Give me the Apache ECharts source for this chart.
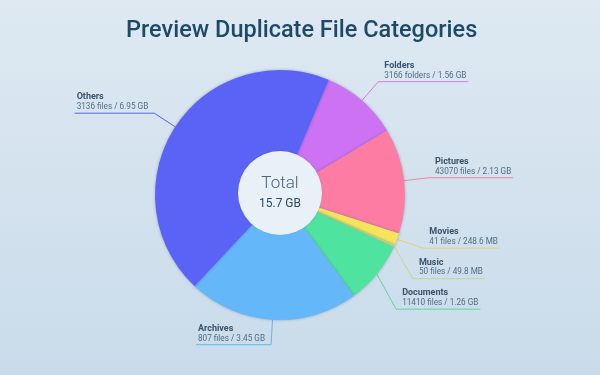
<!DOCTYPE html>
<html>
<head>
<meta charset="utf-8">
<script src="https://cdn.jsdelivr.net/npm/echarts@6/dist/echarts.min.js"></script>
<style>
  html, body { margin: 0; padding: 0; }
  #chart { width: 600px; height: 375px; }
</style>
</head>
<body>
<div id="chart"></div>
<script>
// categories, clockwise from the top
var categories = ['Folders', 'Pictures', 'Movies', 'Music', 'Documents', 'Archives', 'Others'];
// size in GB
var sizesGB = [1.56, 2.13, 0.2486, 0.0498, 1.26, 3.45, 6.95];
// second label line
var details = ['3166 folders / 1.56 GB', '43070 files / 2.13 GB', '41 files / 248.6 MB',
  '50 files / 49.8 MB', '11410 files / 1.26 GB', '807 files / 3.45 GB', '3136 files / 6.95 GB'];
var colors = ['#cd72f3', '#fd7ca4', '#f8e45c', '#a8e783', '#4fe3a0', '#64b8f9', '#5a63f6'];
var lineColors = ['#d57ae8', '#ee86a6', '#e6cf7e', '#c9d68c', '#5cd6a4', '#6ab4e8', '#5b66d8'];
var totalText = ['Total', '15.7 GB'];

var myChart = echarts.init(document.getElementById('chart'));

var pieData = [];
for (var i = 0; i < categories.length; i++) {
  pieData.push({
    name: categories[i],
    value: sizesGB[i],
    detail: details[i],
    itemStyle: { color: colors[i] },
    labelLine: { lineStyle: { color: lineColors[i] } }
  });
}

var cx = 280;

var option = {
  backgroundColor: new echarts.graphic.LinearGradient(0, 0, 0, 1, [
    { offset: 0, color: '#dee9f2' },
    { offset: 1, color: '#c9dbea' }
  ]),
  title: {
    text: 'Preview Duplicate File Categories',
    left: 121,
    top: 14,
    textStyle: {
      color: '#1d4a66',
      fontFamily: 'Roboto',
      fontWeight: 500,
      fontSize: 23.5
    }
  },
  series: [
    {
      name: 'categories',
      type: 'pie',
      center: [cx, 195],
      radius: [0, 125],
      startAngle: 67,
      clockwise: true,
      silent: true,
      itemStyle: {
        shadowBlur: 3,
        shadowColor: 'rgba(40,60,90,0.35)'
      },
      label: {
        show: true,
        position: 'outside',
        distanceToLabelLine: 0,
        minMargin: 12,
        fontFamily: 'Roboto',
        formatter: function (p) {
          return '{n|' + p.name + '}\n{d|' + p.data.detail + '}';
        },
        rich: {
          n: { fontSize: 9, fontWeight: 'bold', color: '#38536a', lineHeight: 10, align: 'left', fontFamily: 'Roboto' },
          d: { fontSize: 8.2, color: '#4f6d86', lineHeight: 10, align: 'left', fontFamily: 'Roboto' }
        }
      },
      labelLine: {
        show: true,
        length: 25,
        length2: 6,
        lineStyle: { width: 1 }
      },
      labelLayout: function (p) {
        var pts = p.labelLinePoints;
        if (!pts) return {};
        var r = p.labelRect;
        var isLeft = r.x + r.width / 2 < cx;
        pts = pts.map(function (q) { return [q[0], q[1]]; });
        pts[2][0] = isLeft ? r.x - 2 : r.x + r.width + 2;
        return {
          dy: -(r.height / 2 + 2),
          labelLinePoints: pts
        };
      },
      data: pieData
    },
    {
      name: 'total',
      type: 'pie',
      center: [cx, 193],
      radius: [0, 42],
      silent: true,
      itemStyle: {
        color: '#e9f1f8',
        shadowBlur: 2,
        shadowColor: 'rgba(40,60,90,0.2)'
      },
      label: {
        show: true,
        position: 'center',
        formatter: '{t|' + totalText[0] + '}\n{v|' + totalText[1] + '}',
        rich: {
          t: { fontSize: 17, color: '#4a6479', fontFamily: 'Roboto', fontWeight: 300, lineHeight: 22 },
          v: { fontSize: 12, color: '#2f4a60', fontFamily: 'Roboto', lineHeight: 18 }
        }
      },
      labelLine: { show: false },
      data: [{ name: 'Total', value: 1 }]
    }
  ]
};

myChart.setOption(option);
</script>
</body>
</html>
